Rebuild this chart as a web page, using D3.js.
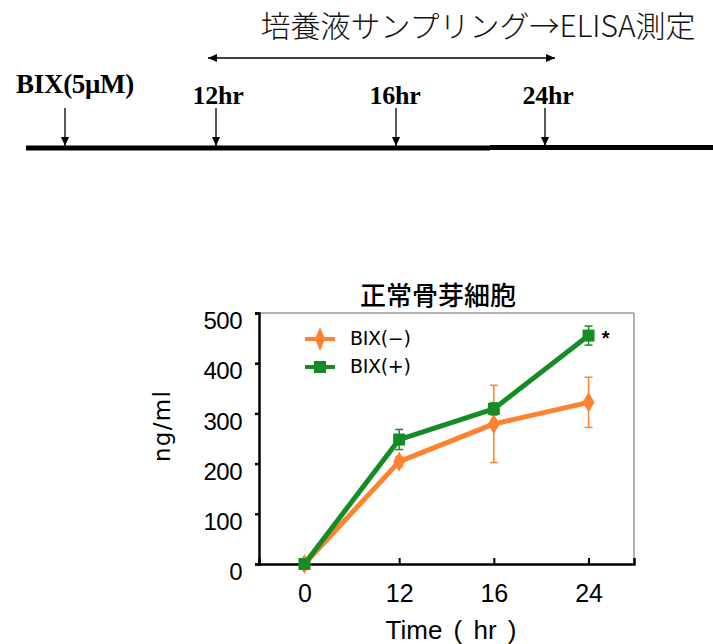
<!DOCTYPE html>
<html><head><meta charset="utf-8">
<script src="https://cdn.jsdelivr.net/npm/d3@7"></script>
<style>body{margin:0;background:#fff}svg{display:block}</style>
</head><body>
<script>
// Data
const categories = ["0", "12", "16", "24"];
const seriesNames = ["BIX(\u2212)", "BIX(+)"];
const bixMinus = [0, 204, 279, 322];
const bixMinusErr = [3, 10, 77, 50];
const bixPlus = [0, 248, 309, 455];
const bixPlusErr = [3, 20, 12, 19];
const yTicks = [0, 100, 200, 300, 400, 500];
const timelineLabels = ["BIX(5\u03bcM)", "12hr", "16hr", "24hr"];

(function () {
const W = 713, H = 644;
const svg = d3.select("body").append("svg").attr("width", W).attr("height", H);

// ---- Timeline diagram ----
const tlPosX = [65, 216, 396, 545];
const tlLabelX = [75, 218, 395, 548];
svg.append("defs").html(`
<marker id="ah" viewBox="0 0 10 10" refX="10" refY="5" markerWidth="9" markerHeight="9" orient="auto-start-reverse" markerUnits="userSpaceOnUse"><path d="M0,0.5 L10,5 L0,9.5 z" fill="#000"/></marker>`);
svg.append("line").attr("x1", 26).attr("x2", 490).attr("y1", 148).attr("y2", 148)
  .attr("stroke", "#000").attr("stroke-width", 5);
svg.append("line").attr("x1", 490).attr("x2", 713).attr("y1", 147.5).attr("y2", 147.5)
  .attr("stroke", "#000").attr("stroke-width", 5);
timelineLabels.forEach((t, i) => {
  const xx = tlPosX[i];
  svg.append("line").attr("x1", xx).attr("x2", xx).attr("y1", 108).attr("y2", 146)
    .attr("stroke", "#000").attr("stroke-width", 1.3).attr("marker-end", "url(#ah)");
  svg.append("text").attr("x", tlLabelX[i]).attr("y", i === 0 ? 93 : 104)
    .attr("text-anchor", "middle")
    .attr("font-family", "Liberation Serif, Times New Roman, serif")
    .attr("font-weight", "bold").attr("font-size", i === 0 ? 27 : 26).attr("letter-spacing", -0.3)
    .text(t);
});
svg.append("line").attr("x1", 208).attr("x2", 555).attr("y1", 58).attr("y2", 58)
  .attr("stroke", "#000").attr("stroke-width", 1.3)
  .attr("marker-start", "url(#ah)").attr("marker-end", "url(#ah)");
svg.append("text").attr("x", 478).attr("y", 37).attr("text-anchor", "middle")
  .attr("font-family", "Noto Sans CJK JP, sans-serif").attr("font-size", 30).attr("font-weight", 300)
  .attr("fill", "#111")
  .text("培養液サンプリング→ELISA測定");

// ---- Chart ----
const pLeft = 259, pRight = 634, pTop = 313, pBottom = 564;
const x = d3.scalePoint().domain(categories).range([pLeft, pRight]).padding(0.48);
const y = d3.scaleLinear().domain([0, 500]).range([pBottom, pTop]);
const font = "Liberation Sans, Arial, sans-serif";
const font2 = "DejaVu Sans, sans-serif";

// frame
svg.append("line").attr("x1", pLeft).attr("x2", pRight).attr("y1", pTop).attr("y2", pTop).attr("stroke", "#999").attr("stroke-width", 1.5);
svg.append("line").attr("x1", pRight).attr("x2", pRight).attr("y1", pTop).attr("y2", pBottom).attr("stroke", "#999").attr("stroke-width", 1.5);

// y axis
const yAxis = svg.append("g").attr("transform", `translate(${pLeft},0)`)
  .call(d3.axisLeft(y).tickValues(yTicks).tickSize(4).tickPadding(13));
yAxis.select(".domain").attr("stroke-width", 2.5);
yAxis.selectAll(".tick line").attr("stroke-width", 2.5);
yAxis.selectAll("text").attr("font-family", font).attr("font-size", 24).attr("fill", "#000")
  .attr("dy", "0.65em").attr("letter-spacing", -0.5);

// x axis (ticks point inward)
const xAxis = svg.append("g").attr("transform", `translate(0,${pBottom})`)
  .call(d3.axisBottom(x).tickSize(-6).tickPadding(20).tickSizeOuter(-6));
xAxis.select(".domain").attr("stroke-width", 2.5);
xAxis.selectAll(".tick line").attr("stroke-width", 2);
xAxis.selectAll("text").attr("font-family", font).attr("font-size", 25).attr("fill", "#000").attr("dy", "0.71em");

// axis titles
svg.append("text").attr("x", 451).attr("y", 639).attr("text-anchor", "middle")
  .attr("font-family", font).attr("font-size", 26).attr("word-spacing", 4).text("Time ( hr )");
svg.append("text").attr("transform", "translate(170,426) rotate(-90)").attr("text-anchor", "middle")
  .attr("font-family", font2).attr("font-size", 23).attr("letter-spacing", 1.3).text("ng/ml");
svg.append("text").attr("x", 438).attr("y", 305).attr("text-anchor", "middle")
  .attr("font-family", "Noto Sans CJK JP, sans-serif").attr("font-size", 26).attr("font-weight", 500)
  .text("正常骨芽細胞");

const series = [
  { name: seriesNames[0], vals: bixMinus, err: bixMinusErr, color: "#FF822E", shape: "diamond" },
  { name: seriesNames[1], vals: bixPlus, err: bixPlusErr, color: "#168C26", shape: "square" }
];
const line = d3.line().x((d, i) => x(categories[i])).y(d => y(d));

function marker(g, shape, cx, cy, color, big) {
  if (shape === "diamond") {
    const h = big ? 12 : 10, w = big ? 5 : 6;
    g.append("path").attr("d", `M${cx},${cy - h} L${cx + w},${cy} L${cx},${cy + h} L${cx - w},${cy} Z`).attr("fill", color);
  } else {
    g.append("rect").attr("x", cx - 6).attr("y", cy - 6).attr("width", 12).attr("height", 12).attr("fill", color);
  }
}

series.forEach(s => {
  const g = svg.append("g");
  s.vals.forEach((v, i) => {
    const cx = x(categories[i]);
    if (s.err[i] > 4) {
      g.append("line").attr("x1", cx).attr("x2", cx).attr("y1", y(v - s.err[i])).attr("y2", y(v + s.err[i])).attr("stroke", s.color).attr("stroke-width", 1.5);
      [v - s.err[i], v + s.err[i]].forEach(e => g.append("line").attr("x1", cx - 4).attr("x2", cx + 4).attr("y1", y(e)).attr("y2", y(e)).attr("stroke", s.color).attr("stroke-width", 1.5));
    }
  });
  g.append("path").datum(s.vals).attr("d", line).attr("fill", "none").attr("stroke", s.color).attr("stroke-width", 5).attr("stroke-linejoin", "round");
  s.vals.forEach((v, i) => marker(g, s.shape, x(categories[i]), y(v), s.color));
});

// significance asterisk
svg.append("text").attr("x", x("24") + 17).attr("y", y(bixPlus[3]) + 9).attr("text-anchor", "middle")
  .attr("font-family", "Liberation Sans, sans-serif").attr("font-weight", "bold").attr("font-size", 20).text("*");

// legend
series.forEach((s, i) => {
  const ly = 339 + i * 28;
  svg.append("line").attr("x1", 305).attr("x2", 335).attr("y1", ly).attr("y2", ly).attr("stroke", s.color).attr("stroke-width", 4);
  marker(svg, s.shape, 320, ly, s.color, true);
  svg.append("text").attr("x", 350).attr("y", ly + 6).attr("font-family", font2).attr("font-size", 19).attr("letter-spacing", -0.3).text(s.name);
});
})();
</script>
</body></html>
